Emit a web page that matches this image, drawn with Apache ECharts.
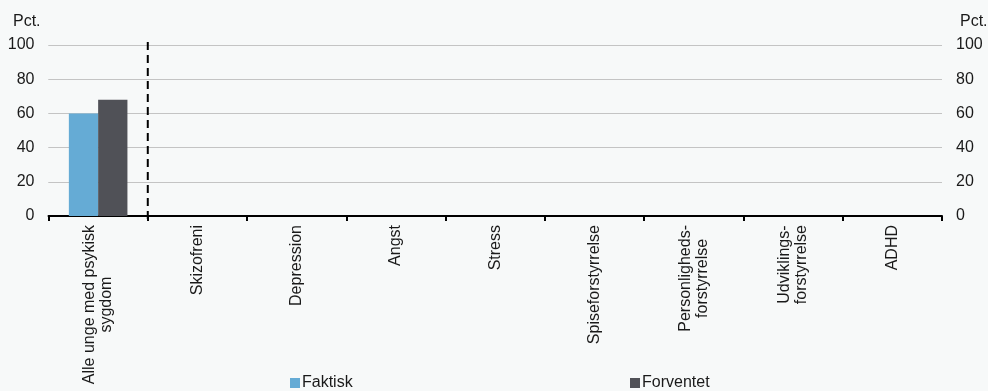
<!DOCTYPE html>
<html>
<head>
<meta charset="utf-8">
<script src="https://cdn.jsdelivr.net/npm/echarts@6/dist/echarts.min.js"></script>
<style>
html,body{margin:0;padding:0;background:#f7f9f9;}
#chart{width:988px;height:391px;}
</style>
</head>
<body>
<div id="chart"></div>
<script>
const categories = [
  'Alle unge med psykisk\nsygdom',
  'Skizofreni',
  'Depression',
  'Angst',
  'Stress',
  'Spiseforstyrrelse',
  'Personligheds-\nforstyrrelse',
  'Udviklings-\nforstyrrelse',
  'ADHD'
];
const faktisk = [60, null, null, null, null, null, null, null, null];
const forventet = [68, null, null, null, null, null, null, null, null];
const yTicks = [0, 20, 40, 60, 80, 100];
const unitLabel = 'Pct.';
const separatorPosition = [1];

const font = 'Liberation Sans, Arial, Helvetica, sans-serif';
const textColor = '#1a1a1a';
const fs = 16;

const chart = echarts.init(document.getElementById('chart'), null, {renderer: 'canvas'});
const yAxisCommon = {
  type: 'value',
  min: yTicks[0],
  max: yTicks[yTicks.length - 1],
  interval: 20,
  axisLine: {show: false},
  axisTick: {show: false},
  axisLabel: {color: textColor, fontSize: fs, fontFamily: font, margin: 14},
  splitLine: {lineStyle: {color: '#c4c4c4', width: 1}}
};
chart.setOption({
  backgroundColor: '#f7f9f9',
  animation: false,
  title: [
    {text: unitLabel, left: 8, top: 9, textStyle: {color: textColor, fontSize: fs, fontWeight: 'normal', fontFamily: font}},
    {text: unitLabel, left: 955, top: 9, textStyle: {color: textColor, fontSize: fs, fontWeight: 'normal', fontFamily: font}}
  ],
  grid: {left: 48.5, right: 46, top: 45, bottom: 175, containLabel: false},
  legend: [
    {data: ['Faktisk'], left: 285, top: 370, itemWidth: 10, itemHeight: 10, itemGap: 0,
     textStyle: {color: textColor, fontSize: fs, fontFamily: font, padding: [0, 0, 0, -3]}, icon: 'rect'},
    {data: ['Forventet'], left: 625, top: 370, itemWidth: 10, itemHeight: 10, itemGap: 0,
     textStyle: {color: textColor, fontSize: fs, fontFamily: font, padding: [0, 0, 0, -3]}, icon: 'rect'}
  ],
  xAxis: [
    {
      type: 'category',
      data: categories,
      axisLine: {lineStyle: {color: '#000', width: 2}},
      axisTick: {show: true, alignWithLabel: false, length: 5, lineStyle: {color: '#000', width: 2}},
      axisLabel: {
        interval: 0,
        rotate: 90,
        margin: 9,
        color: textColor,
        fontSize: fs,
        fontFamily: font,
        lineHeight: 17,
        formatter: function (v) {
          return v.split('\n').map(function (l) { return '{c|' + l + '}'; }).join('\n');
        },
        rich: {c: {align: 'center', fontSize: fs, fontFamily: font, color: textColor, lineHeight: 17}}
      },
      splitLine: {show: false}
    },
    {
      type: 'value', min: 0, max: categories.length, show: false
    }
  ],
  yAxis: [
    Object.assign({}, yAxisCommon, {position: 'left'}),
    Object.assign({}, yAxisCommon, {position: 'right'})
  ],
  series: [
    {
      name: 'Faktisk', type: 'bar', data: faktisk,
      itemStyle: {color: '#65abd5'},
      barGap: '0%', barCategoryGap: '41%'
    },
    {
      name: 'Forventet', type: 'bar', data: forventet,
      itemStyle: {color: '#505157'},
      barGap: '0%', barCategoryGap: '41%'
    },
    {
      name: 'sep', type: 'custom', xAxisIndex: 1, yAxisIndex: 0,
      data: separatorPosition.map(function (x) { return [x]; }),
      clip: false, silent: true,
      renderItem: function (params, api) {
        const x = api.value(0);
        const p1 = api.coord([x, 101.8]);
        const p2 = api.coord([x, -2.3]);
        return {
          type: 'line',
          shape: {x1: p1[0], y1: p1[1], x2: p2[0], y2: p2[1]},
          style: {stroke: '#000', lineWidth: 2, lineDash: [8, 5]}
        };
      }
    }
  ]
});
</script>
</body>
</html>
